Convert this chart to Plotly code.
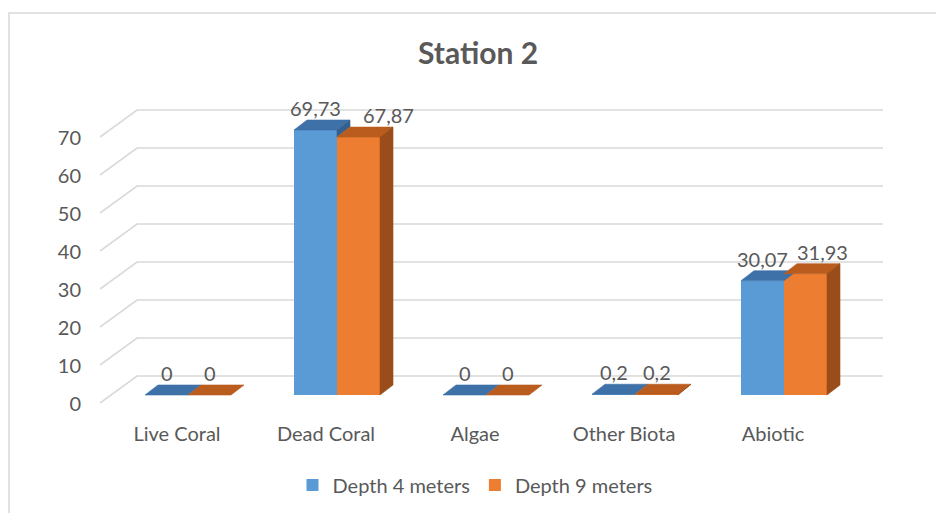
import plotly.graph_objects as go

# ---- data -------------------------------------------------------------
categories = ["Live Coral", "Dead Coral", "Algae", "Other Biota", "Abiotic"]
depth4 = [0, 69.73, 0, 0.2, 30.07]
depth9 = [0, 67.87, 0, 0.2, 31.93]
series_names = ["Depth 4 meters", "Depth 9 meters"]
y_ticks = [0, 10, 20, 30, 40, 50, 60, 70]

# ---- geometry (pixels) ------------------------------------------------
W, H = 936, 513
L, R, T, B = 100, 900, 90, 420          # plot area
PX_X = 149.0                             # pixels per category step
PX_Y = 3.8                               # pixels per value unit
ZERO_PX = 395                            # baseline of the bar fronts
FIRST_PX = 188                           # centre of the first category
BAR_W = 43 / PX_X                        # width of one bar in x units
DX = 13 / PX_X                           # oblique depth, x part
DY = 10 / PX_Y                           # oblique depth, y part

x0 = -(FIRST_PX - L) / PX_X
x_range = [x0, x0 + (R - L) / PX_X]
y_range = [-(B - ZERO_PX) / PX_Y, (ZERO_PX - T) / PX_Y]

# ---- colours ----------------------------------------------------------
BLUE, BLUE_TOP, BLUE_SIDE = "#5B9BD5", "#3E71A7", "#345F8E"
ORANGE, ORANGE_TOP, ORANGE_SIDE = "#ED7D31", "#B95C1E", "#9A4D1A"
TEXT = "#595959"
GRID = "#D9D9D9"
FONT = "Lato"

fig = go.Figure()
idx = list(range(len(categories)))

# front faces of the bars
fig.add_trace(go.Bar(x=idx, y=depth4, width=BAR_W, offset=-BAR_W,
                     marker=dict(color=BLUE, line=dict(width=0)),
                     name=series_names[0], legendrank=1))
fig.add_trace(go.Bar(x=idx, y=depth9, width=BAR_W, offset=0,
                     marker=dict(color=ORANGE, line=dict(width=0)),
                     name=series_names[1], legendrank=2))


def face(xs, ys, color):
    fig.add_trace(go.Scatter(x=xs + [xs[0]], y=ys + [ys[0]], mode="lines",
                             fill="toself", fillcolor=color,
                             line=dict(width=0.6, color=color),
                             hoverinfo="skip", showlegend=False))


# oblique top and side faces, built from the same values
for i, (b, o) in enumerate(zip(depth4, depth9)):
    bl, bm, br = i - BAR_W, i, i + BAR_W
    # blue top
    face([bl, bm, bm + DX, bl + DX], [b, b, b + DY, b + DY], BLUE_TOP)
    # part of the blue right side that rises above the orange bar
    if b > o:
        face([bm, bm + DX, bm + DX, bm], [b, b + DY, o + DY, o], BLUE_SIDE)
    # orange top
    face([bm, br, br + DX, bm + DX], [o, o, o + DY, o + DY], ORANGE_TOP)
    # orange right side
    if o > 0:
        face([br, br + DX, br + DX, br], [o, o + DY, DY, 0], ORANGE_SIDE)

# value labels
orange_label_shift = [0, 30, 0, 0, 17]


def fmt(v):
    return f"{v:g}".replace(".", ",")


for i, (b, o) in enumerate(zip(depth4, depth9)):
    fig.add_annotation(x=i - BAR_W / 2, y=b, text=fmt(b), showarrow=False,
                       yshift=22, font=dict(family=FONT, size=20, color=TEXT))
    fig.add_annotation(x=i + BAR_W / 2, y=o, text=fmt(o), showarrow=False,
                       yshift=22, xshift=orange_label_shift[i],
                       font=dict(family=FONT, size=20, color=TEXT))

# receding gridlines: front stub, diagonal, back wall line
gx_front = x_range[0]
gx_back = x_range[0] + 37 / PX_X
gx_end = x_range[0] + 783 / PX_X
front_off = -8 / PX_Y
back_off = 19 / PX_Y
shapes = []
for v in y_ticks:
    shapes.append(dict(type="path", xref="x", yref="y", layer="below",
                       path=f"M {gx_front},{v + front_off} L {gx_back},{v + back_off} "
                            f"L {gx_end},{v + back_off}",
                       line=dict(color=GRID, width=1.6)))

# chart border
shapes.append(dict(type="rect", xref="paper", yref="paper", layer="below",
                   x0=(9 - L) / (R - L), x1=(W + 10 - L) / (R - L),
                   y0=(B - (H + 10)) / (B - T), y1=(B - 13) / (B - T),
                   line=dict(color=GRID, width=1.5), fillcolor="rgba(0,0,0,0)"))

fig.update_layout(
    width=W, height=H,
    margin=dict(l=L, r=W - R, t=T, b=H - B),
    paper_bgcolor="white", plot_bgcolor="white",
    barmode="overlay",
    shapes=shapes,
    title=dict(text="<b>Station 2</b>", x=478 / W, xref="container", xanchor="center",
               y=1 - 53 / H, yref="container", yanchor="middle",
               font=dict(family=FONT, size=30, color=TEXT)),
    xaxis=dict(range=x_range, tickvals=idx, ticktext=categories,
               showgrid=False, zeroline=False, showline=False, ticks="",
               ticklabelshift=-11, ticklabelstandoff=0,
               tickfont=dict(family=FONT, size=20, color=TEXT), fixedrange=True),
    yaxis=dict(range=y_range, tickvals=y_ticks, ticktext=[str(v) for v in y_ticks],
               showgrid=False, zeroline=False, showline=False, ticks="",
               ticklabelshift=9, ticklabelstandoff=18,
               tickfont=dict(family=FONT, size=20, color=TEXT), fixedrange=True),
    legend=dict(orientation="h", xref="container", yref="container",
                x=475 / W, xanchor="center", y=1 - 485 / H, yanchor="middle",
                font=dict(family=FONT, size=20, color=TEXT),
                itemwidth=30, traceorder="normal"),
    showlegend=True,
)

fig.write_html("out.html")
